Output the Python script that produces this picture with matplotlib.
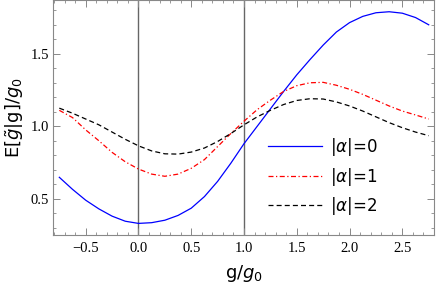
import matplotlib
matplotlib.use("Agg")
import matplotlib.pyplot as plt
from matplotlib.ticker import MultipleLocator

# values
g = [-0.75, -0.625, -0.5, -0.375, -0.25, -0.125, 0.0, 0.125, 0.25, 0.375,
     0.5, 0.625, 0.75, 0.875, 1.0, 1.125, 1.25, 1.375, 1.5, 1.625,
     1.75, 1.875, 2.0, 2.125, 2.25, 2.375, 2.5, 2.625, 2.75]

alpha0 = [0.648, 0.565, 0.49, 0.43, 0.38, 0.345, 0.33, 0.335, 0.352, 0.385,
          0.435, 0.515, 0.62, 0.745, 0.88, 1.0, 1.12, 1.24, 1.355, 1.46,
          1.56, 1.65, 1.715, 1.758, 1.783, 1.79, 1.78, 1.75, 1.70]

alpha1 = [1.11, 1.06, 0.975, 0.90, 0.82, 0.755, 0.705, 0.67, 0.655, 0.67,
          0.71, 0.77, 0.86, 0.95, 1.035, 1.115, 1.18, 1.24, 1.28, 1.30,
          1.303, 1.283, 1.255, 1.22, 1.18, 1.14, 1.105, 1.078, 1.05]

alpha2 = [1.125, 1.09, 1.05, 1.01, 0.96, 0.91, 0.865, 0.83, 0.81, 0.808,
          0.822, 0.85, 0.895, 0.95, 1.01, 1.065, 1.11, 1.15, 1.178, 1.19,
          1.188, 1.168, 1.14, 1.105, 1.065, 1.025, 0.99, 0.96, 0.935]

labels = [r"|$\alpha$|=0", r"|$\alpha$|=1", r"|$\alpha$|=2"]
vlines = [0.0, 1.0]

plt.rcParams['mathtext.fontset'] = 'dejavusans'

fig = plt.figure(figsize=(4.36, 2.85), dpi=100)
ax = fig.add_axes([53.3 / 436, 50 / 285, (434 - 53.3) / 436, 235 / 285])

for v in vlines:
    ax.axvline(v, color='#666666', lw=1.0, zorder=1)

ax.plot(g, alpha0, color='blue', lw=0.9, label=labels[0])
ax.plot(g, alpha1, color='red', lw=0.9, dashes=(4, 2, 1, 2), label=labels[1])
ax.plot(g, alpha2, color='black', lw=0.9, dashes=(4, 2.5), label=labels[2])

ax.set_xlim(-0.807, 2.80)
ax.set_ylim(0.25, 1.871)

ax.xaxis.set_major_locator(MultipleLocator(0.5))
ax.xaxis.set_minor_locator(MultipleLocator(0.1))
ax.yaxis.set_major_locator(MultipleLocator(0.5))
ax.yaxis.set_minor_locator(MultipleLocator(0.1))
ax.tick_params(which='both', direction='in', top=True, right=True, color='#888888')
ax.tick_params(which='major', length=5, width=0.7)
ax.tick_params(which='minor', length=2.5, width=0.6)
ax.tick_params(axis='x', labelsize=10.5, pad=5)
ax.tick_params(axis='y', labelsize=10.5, pad=3)
for lab in ax.get_xticklabels() + ax.get_yticklabels():
    lab.set_family('Liberation Serif')
for s in ax.spines.values():
    s.set_color('#888888')
    s.set_linewidth(0.8)

ax.set_xlabel(r"g/$g_0$", fontsize=13, labelpad=6)
ax.set_ylabel(r"E[$\tilde{g}$|g]/$g_0$", fontsize=13, labelpad=3)

ax.legend(loc='upper left', bbox_to_anchor=(0.565, 0.42), frameon=False,
          fontsize=12, handlelength=3.2, handletextpad=0.5, labelspacing=0.45,
          borderpad=0, borderaxespad=0)

fig.savefig("out.png", dpi=100)
